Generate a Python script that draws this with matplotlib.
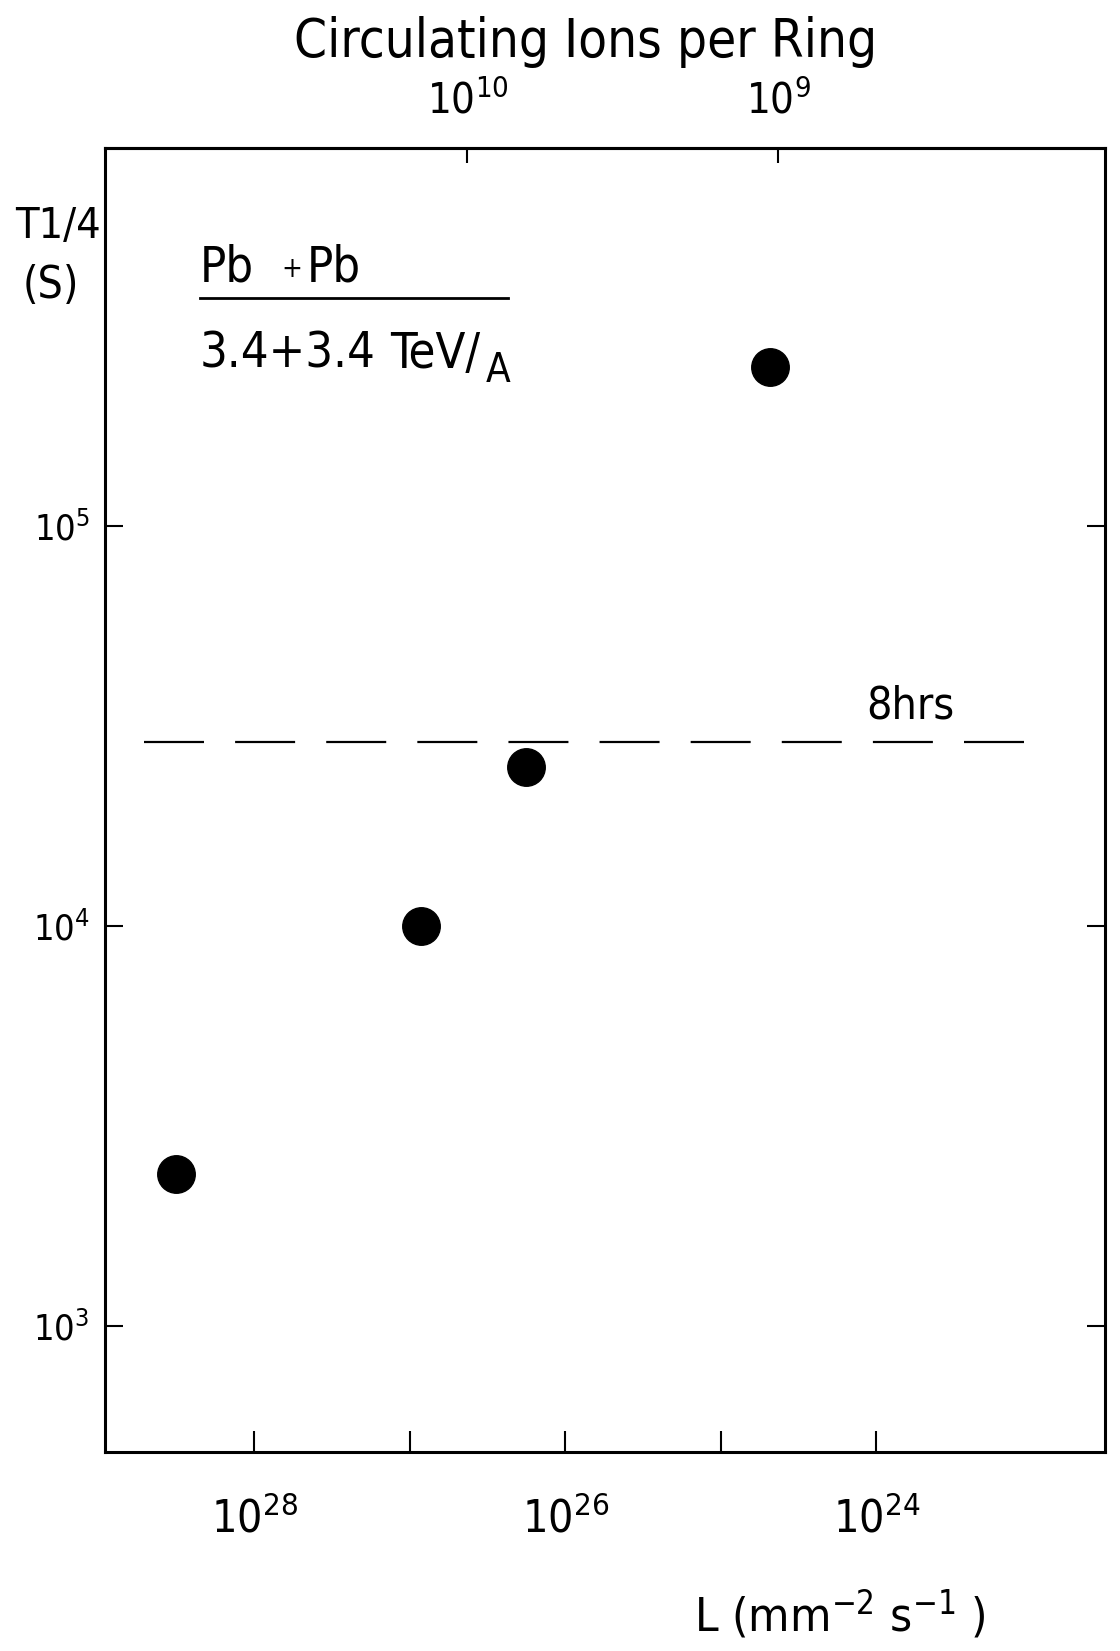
"""
Quarter-life of the Pb+Pb beams versus luminosity, with the matching
number of circulating ions per ring on the top axis.
Saves out.png.
"""

import numpy as np
import matplotlib.pyplot as plt
import matplotlib as mpl
from matplotlib.ticker import NullLocator

mpl.rcParams.update({
    "font.family": ["DejaVu Sans"],
    "font.stretch": "condensed",
    "mathtext.fontset": "custom",
    "mathtext.rm": "DejaVu Sans:stretch=condensed",
    "mathtext.it": "DejaVu Sans:stretch=condensed",
    "mathtext.bf": "DejaVu Sans:stretch=condensed:bold",
})

# luminosity (mm^-2 s^-1) and T1/4 (s) of the four runs
lumi = [3.2e28, 8.5e26, 1.8e26, 4.8e24]
t_quarter = [2.4e3, 1.0e4, 2.5e4, 2.5e5]

# reference lifetime line
hours = 8
line_lumi = [5.1e28, 1.1e23]

L_ticks = [1e28, 1e27, 1e26, 1e25, 1e24]
L_labels = ["$10^{28}$", "", "$10^{26}$", "", "$10^{24}$"]
T_ticks = [1e3, 1e4, 1e5]
T_labels = ["$10^{3}$", "$10^{4}$", "$10^{5}$"]
N_ticks = [1e10, 1e9]
N_labels = ["$10^{10}$", "$10^{9}$"]

L_PER_N2 = 10 ** 6.63   # L = L_PER_N2 * N^2


def lumi_to_ions(L):
    return np.sqrt(np.maximum(L, 1e-300) / L_PER_N2)


def ions_to_lumi(N):
    return L_PER_N2 * np.asarray(N) ** 2


def px(x, y):
    # figure pixel position -> figure fraction
    return x / 1120, 1 - y / 1651


fig = plt.figure(figsize=(11.2, 16.51), dpi=100)
l, b = px(105, 1452)
r, t = px(1105, 148)
ax = fig.add_axes([l, b, r - l, t - b])

ax.set_xscale("log")
ax.set_yscale("log")
ax.set_xlim(10 ** 28.96, 10 ** 22.53)
ax.set_ylim(10 ** 2.685, 10 ** 5.945)

ax.plot(line_lumi, [hours * 3600] * 2, color="black", lw=1.6,
        linestyle=(0, (27, 14)))
ax.plot(lumi, t_quarter, "o", ms=27, color="black", linestyle="none")

for s in ax.spines.values():
    s.set_linewidth(2.2)

ax.set_xticks(L_ticks, labels=L_labels)
ax.xaxis.set_minor_locator(NullLocator())
ax.tick_params(axis="x", direction="in", length=15, width=1.5, top=False,
               pad=32, labelsize=32)

ax.set_yticks(T_ticks, labels=T_labels)
ax.yaxis.set_minor_locator(NullLocator())
ax.tick_params(axis="y", direction="in", length=13, width=1.5, right=True,
               pad=11, labelsize=26)
for lab in ax.get_yticklabels():
    lab.set_stretch("normal")
    lab.set_math_fontfamily("dejavusans")

sec = ax.secondary_xaxis("top", functions=(lumi_to_ions, ions_to_lumi))
sec.set_xticks(N_ticks, labels=N_labels)
sec.xaxis.set_minor_locator(NullLocator())
sec.tick_params(direction="in", length=11, width=1.5, pad=18, labelsize=30)
sec.spines["top"].set_linewidth(2.2)

ax.text(0.805, 0.572, f"{hours}hrs", transform=ax.transAxes, ha="center",
        va="center", fontsize=32)

fig.text(*px(586, 42), "Circulating Ions per Ring", ha="center", va="center",
         fontsize=38)
fig.text(*px(840, 1614), r"L (mm$^{-2}$ s$^{-1}$ )", ha="center",
         va="center", fontsize=34)
fig.text(*px(58, 226), "T1/4", ha="center", va="center", fontsize=31)
fig.text(*px(51, 286), "(S)", ha="center", va="center", fontsize=32)

# collision label: "Pb +Pb" over "3.4+3.4 TeV/A"
fig.text(*px(200, 282), "Pb", ha="left", va="baseline", fontsize=35)
fig.text(*px(281, 277), "+", ha="left", va="baseline", fontsize=20)
fig.text(*px(307, 282), "Pb", ha="left", va="baseline", fontsize=35)
x0, y0 = px(200, 298)
x1, _ = px(508, 298)
fig.add_artist(plt.Line2D([x0, x1], [y0, y0], transform=fig.transFigure,
                          color="black", lw=2))
fig.text(*px(200, 368), "3.4+3.4", ha="left", va="baseline", fontsize=35)
fig.text(*px(390, 368), "TeV/", ha="left", va="baseline", fontsize=35)
fig.text(*px(486, 382), "A", ha="left", va="baseline", fontsize=29)

fig.savefig("out.png", dpi=100)
plt.close(fig)
